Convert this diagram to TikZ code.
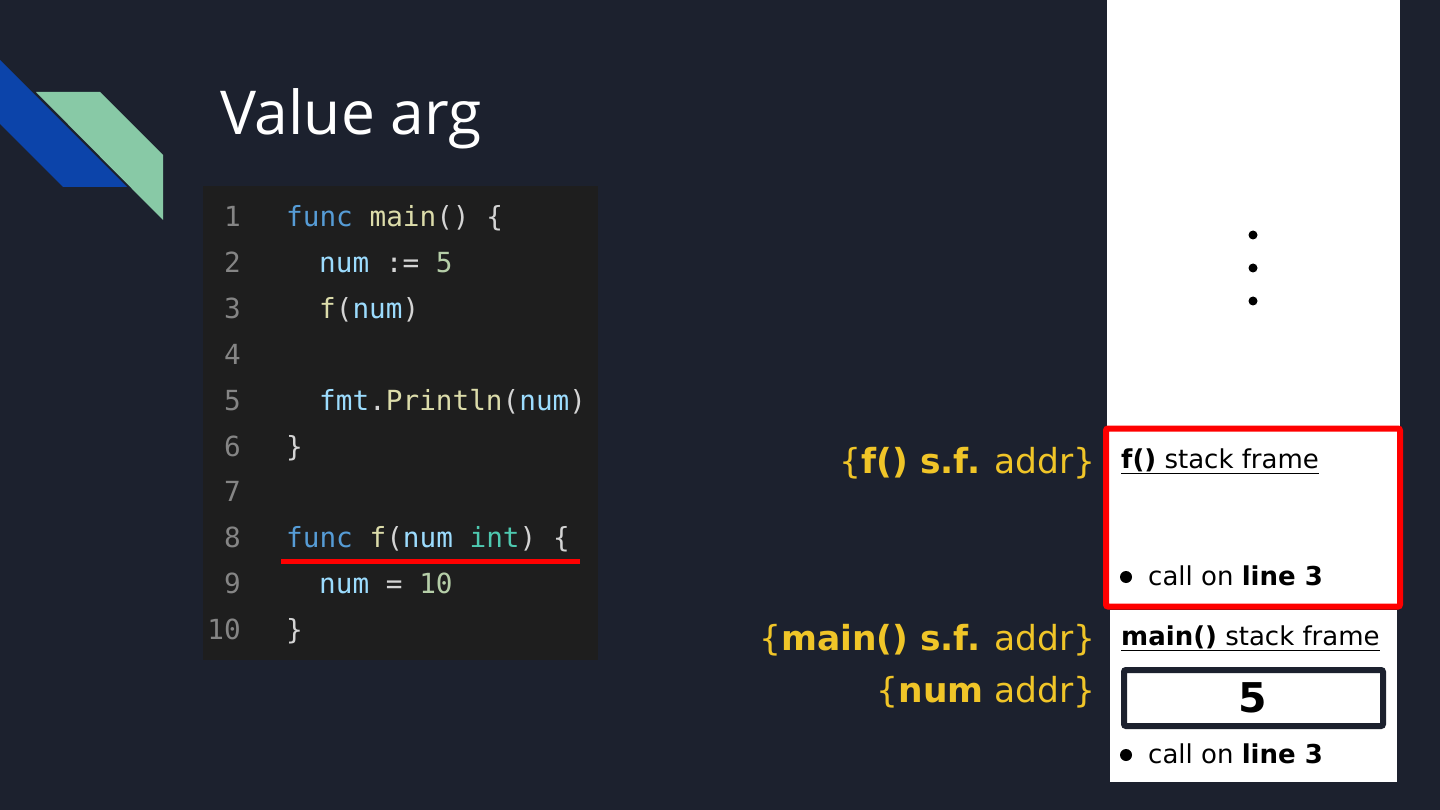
\documentclass[tikz,border=0pt]{standalone}
\usepackage{fontspec}
\setmainfont{Open Sans}
\setmonofont{DejaVu Sans Mono}
\newfontfamily\slidefont{DejaVu Sans}
\definecolor{bg}{RGB}{28,33,46}
\definecolor{blueband}{RGB}{12,68,170}
\definecolor{greenband}{RGB}{136,201,166}
\definecolor{codebg}{RGB}{30,30,30}
\definecolor{lnum}{RGB}{133,133,133}
\definecolor{kw}{RGB}{86,156,214}
\definecolor{fn}{RGB}{220,220,170}
\definecolor{var}{RGB}{156,220,254}
\definecolor{numc}{RGB}{181,206,168}
\definecolor{ty}{RGB}{78,201,176}
\definecolor{pn}{RGB}{212,212,212}
\definecolor{addr}{RGB}{240,197,40}
\definecolor{hl}{RGB}{255,0,0}
\tikzset{
  lnumstyle/.style={anchor=base east,inner sep=0pt,text=lnum,font=\ttfamily\fontsize{27.7}{30}\selectfont},
  codestyle/.style={anchor=base west,inner sep=0pt,text=pn,font=\ttfamily\fontsize{27.7}{30}\selectfont},
  addrstyle/.style={anchor=base east,inner sep=0pt,text=addr,font=\slidefont\fontsize{34.5}{40}\selectfont},
  framestyle/.style={anchor=base west,inner sep=0pt,text=black,font=\slidefont\fontsize{26}{30}\selectfont},
  dotstyle/.style={circle,fill=black,inner sep=0pt,minimum size=9pt}
}
\begin{document}
\begin{tikzpicture}[x=1pt,y=-1pt]
\useasboundingbox (0,0) rectangle (1440,810);
\fill[bg] (0,0) rectangle (1440,810);
% decoration
\fill[blueband] (0,60) -- (127,187) -- (63,187) -- (0,124) -- cycle;
\fill[greenband] (36,92) -- (100,92) -- (163,155) -- (163,220) -- cycle;
% title
\node[anchor=base west,inner sep=0pt,text=white,font=\fontsize{60.5}{70}\selectfont] (title) at (220,135) {Value arg};
% code block
\fill[codebg] (203,186) rectangle (598,660);
\foreach \k in {1,...,9}{
  \node[lnumstyle] (ln\k) at (241,{227+(\k-1)*45.8}) {\k};
}
\node[lnumstyle] (ln10) at (241,639.2) {10};
\node[codestyle] (c1) at (286,227) {\textcolor{kw}{func} \textcolor{fn}{main}() \{};
\node[codestyle] (c2) at (319,272.8) {\textcolor{var}{num} := \textcolor{numc}{5}};
\node[codestyle] (c3) at (319,318.6) {\textcolor{fn}{f}(\textcolor{var}{num})};
\node[codestyle] (c5) at (319,410.2) {\textcolor{var}{fmt}.\textcolor{fn}{Println}(\textcolor{var}{num})};
\node[codestyle] (c6) at (286,456) {\}};
\node[codestyle] (c8) at (286,547.6) {\textcolor{kw}{func} \textcolor{fn}{f}(\textcolor{var}{num} \textcolor{ty}{int}) \{};
\node[codestyle] (c9) at (319,593.4) {\textcolor{var}{num} = \textcolor{numc}{10}};
\node[codestyle] (c10) at (286,639.2) {\}};
\draw[hl,line width=5pt] (281,561) -- (580,561);
% stack column
\fill[white] (1107,0) rectangle (1400,430);
\node[dotstyle] (d1) at (1253,235) {};
\node[dotstyle] (d2) at (1253,268) {};
\node[dotstyle] (d3) at (1253,301) {};
% f() frame
\draw[hl,line width=6pt,fill=white,rounded corners=2pt] (1106,428.5) rectangle (1400,606.5);
\node[framestyle] (ft) at (1121,468) {\underline{\textbf{f()} stack frame}};
\fill[black] (1126,577) circle (6);
\node[framestyle] (fc) at (1148,585) {call on \textbf{line 3}};
% main frame
\fill[white] (1110,610) rectangle (1397,782);
\node[framestyle] (mt) at (1121,645) {\underline{\textbf{main()} stack frame}};
\draw[bg,line width=6pt,rounded corners=2pt] (1124,670) rectangle (1383,726);
\node[anchor=center,inner sep=0pt,font=\slidefont\bfseries\fontsize{41}{44}\selectfont] (five) at (1253,698) {5};
\fill[black] (1126,755) circle (6);
\node[framestyle] (mc) at (1148,763) {call on \textbf{line 3}};
% address labels
\node[addrstyle] (fa) at (1096,473) {\{\textbf{f() s.f.} addr\}};
\node[addrstyle] (ma) at (1096,650) {\{\textbf{main() s.f.} addr\}};
\node[addrstyle] (na) at (1096,702) {\{\textbf{num} addr\}};
\end{tikzpicture}
\end{document}
